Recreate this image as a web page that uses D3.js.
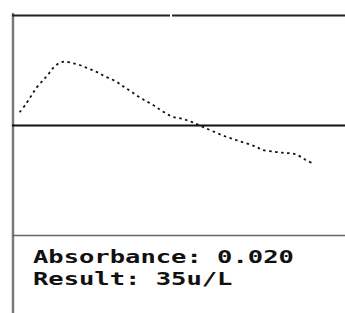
<!DOCTYPE html>
<html><head><meta charset="utf-8">
<script src="https://cdn.jsdelivr.net/npm/d3@7"></script>
<style>html,body{margin:0;padding:0;background:#fff;}svg{display:block;}</style>
</head><body>
<svg id="c" width="345" height="313"></svg>
<script>
// Kinetic reading: time (s) and relative absorbance change
const times = [2,4,5.5,7,9,10.5,12,14,15.5,17.5,20,22.5,25,27.5,31,33.5,36,39,42,45,48,51,54,57,60,64,67,70,73,75,79,82,85,88,90];
const values = [0.12,0.20,0.27,0.34,0.41,0.46,0.52,0.57,0.58,0.57,0.55,0.52,0.49,0.45,0.40,0.35,0.30,0.24,0.19,0.13,0.08,0.06,0.03,-0.01,-0.05,-0.10,-0.13,-0.16,-0.19,-0.22,-0.24,-0.25,-0.26,-0.31,-0.34];
const infoLines = ["Absorbance: 0.020", "Result: 35u/L"];

const svg = d3.select("#c");
const x = d3.scaleLinear().domain([0, 100]).range([13, 345]);
const y = d3.scaleLinear().domain([-1, 1]).range([235.5, 15.5]);

// frame lines
svg.append("line").attr("x1", 13).attr("x2", 13).attr("y1", 13).attr("y2", 313)
  .attr("stroke", "#7a7a7a").attr("stroke-width", 2.5);
svg.append("line").attr("x1", 12).attr("x2", 170).attr("y1", y(1)).attr("y2", y(1))
  .attr("stroke", "#222").attr("stroke-width", 2);
svg.append("line").attr("x1", 172).attr("x2", 345).attr("y1", y(1)).attr("y2", y(1))
  .attr("stroke", "#222").attr("stroke-width", 2);
svg.append("line").attr("x1", 12).attr("x2", 345).attr("y1", y(0)).attr("y2", y(0))
  .attr("stroke", "#111").attr("stroke-width", 2);
svg.append("line").attr("x1", 12).attr("x2", 345).attr("y1", y(-1)).attr("y2", y(-1))
  .attr("stroke", "#666").attr("stroke-width", 1.6);

// dotted curve
const line = d3.line().x((d, i) => x(times[i])).y(d => y(d)).curve(d3.curveCatmullRom);
svg.append("path").datum(values).attr("d", line)
  .attr("fill", "none").attr("stroke", "#111").attr("stroke-width", 1.8)
  .attr("stroke-dasharray", "2.5 3.5");

// info text
const tg = svg.append("g");
infoLines.forEach((t, i) => {
  tg.append("text")
    .attr("transform", `translate(33,${263 + i * 22}) scale(1.5,1)`)
    .attr("font-family", "DejaVu Sans Mono")
    .attr("font-weight", "bold")
    .attr("font-size", 17)
    .attr("fill", "#111")
    .text(t);
});
</script>
</body></html>
